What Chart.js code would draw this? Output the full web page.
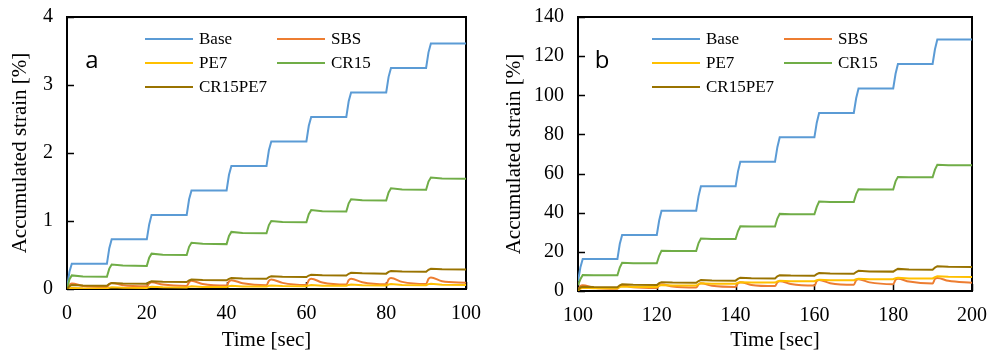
<!DOCTYPE html>
<html>
<head>
<meta charset="utf-8">
<script src="https://cdn.jsdelivr.net/npm/chart.js@4.4.1/dist/chart.umd.min.js"></script>
<style>
  body { margin: 0; background: #fff; }
  #wrap { position: relative; width: 989px; height: 354px; }
  canvas { position: absolute; top: 0; }
</style>
</head>
<body>
<div id="wrap">
  <canvas id="chart-a" width="494" height="354" style="left:0"></canvas>
  <canvas id="chart-b" width="495" height="354" style="left:494px"></canvas>
</div>
<script>
// ---- data ----
const seriesNames  = ['Base', 'SBS', 'PE7', 'CR15', 'CR15PE7'];
const seriesColors = ['#5B9BD5', '#ED7D31', '#FFC000', '#70AD47', '#997300'];

// panel a : time 0-100 s, strain in %
const timeA = [0,0.6,1.2,4, 10,10.6,11.2,14, 20,20.6,21.2,24, 30,30.6,31.2,34, 40,40.6,41.2,44,
               50,50.6,51.2,54, 60,60.6,61.2,64, 70,70.6,71.2,74, 80,80.6,81.2,84, 90,90.6,91.2,94, 100];
const baseA = [0,0.25,0.37,0.37, 0.37,0.6,0.73,0.73, 0.73,0.95,1.09,1.09, 1.09,1.32,1.45,1.45, 1.45,1.68,1.81,1.81,
               1.81,2.04,2.17,2.17, 2.17,2.4,2.53,2.53, 2.53,2.76,2.89,2.89, 2.89,3.12,3.25,3.25, 3.25,3.48,3.61,3.61, 3.61];
const sbsA = [0,0.06,0.08,0.045, 0.03,0.07,0.09,0.055, 0.04,0.08,0.1,0.065, 0.045,0.1,0.12,0.075, 0.05,0.11,0.13,0.085,
              0.055,0.12,0.14,0.09, 0.06,0.13,0.15,0.095, 0.065,0.13,0.15,0.1, 0.07,0.14,0.16,0.105, 0.075,0.15,0.17,0.115, 0.093];
const pe7A = [0,0.01,0.015,0.01, 0.008,0.02,0.025,0.017, 0.015,0.027,0.032,0.024, 0.022,0.034,0.04,0.031, 0.029,0.041,0.047,0.037,
              0.035,0.047,0.053,0.043, 0.041,0.053,0.06,0.049, 0.046,0.06,0.066,0.054, 0.051,0.066,0.072,0.059, 0.056,0.072,0.078,0.063, 0.06];
const cr15A = [0,0.14,0.2,0.185, 0.18,0.3,0.36,0.345, 0.34,0.46,0.52,0.505, 0.5,0.62,0.68,0.665, 0.66,0.78,0.84,0.825,
               0.82,0.94,1.0,0.985, 0.98,1.1,1.16,1.145, 1.14,1.26,1.32,1.305, 1.3,1.42,1.48,1.465, 1.46,1.58,1.64,1.625, 1.62];
const cr15pe7A = [0,0.04,0.06,0.052, 0.048,0.075,0.088,0.082, 0.078,0.1,0.113,0.107, 0.103,0.125,0.138,0.131, 0.127,0.15,0.162,0.155,
                  0.151,0.174,0.186,0.179, 0.175,0.198,0.21,0.203, 0.199,0.224,0.238,0.23, 0.226,0.252,0.265,0.257, 0.253,0.283,0.298,0.29, 0.287];

// panel b : time 100-200 s
const timeB = [100,100.6,101.2,104, 110,110.6,111.2,114, 120,120.6,121.2,124, 130,130.6,131.2,134, 140,140.6,141.2,144,
               150,150.6,151.2,154, 160,160.6,161.2,164, 170,170.6,171.2,174, 180,180.6,181.2,184, 190,190.6,191.2,194, 200];
const baseB = [5,12,16.3,16.3, 16.3,24,28.6,28.6, 28.6,36,41,41, 41,48.5,53.5,53.5, 53.5,61,66,66,
               66,73.5,78.5,78.5, 78.5,86,91,91, 91,98.5,103.5,103.5, 103.5,111,116,116, 116,123.5,128.5,128.5, 128.5];
const sbsB = [0.5,2.5,3,1.6, 1.1,2.4,2.9,1.9, 1.5,2.9,3.4,2.3, 1.8,3.3,3.9,2.7, 2.1,3.9,4.5,3.1,
              2.5,4.4,5,3.6, 2.8,5,5.6,4, 3.2,5.4,6,4.4, 3.5,5.7,6.3,4.8, 3.8,6.2,6.7,5.2, 4.2];
const pe7B = [0.3,1.2,1.6,1.4, 1.4,2,2.3,2.1, 2.1,2.7,3,2.8, 2.8,3.5,3.9,3.7, 3.7,4.2,4.5,4.3,
              4.3,4.9,5.2,5, 5,5.5,5.8,5.5, 5.5,6,6.3,6, 6,6.5,6.8,6.4, 6.4,7.1,7.5,7.3, 7.2];
const cr15B = [3,6,8.2,8, 8,12,14.4,14.2, 14.2,18,20.6,20.4, 20.4,24.5,26.8,26.6, 26.6,30.5,33.1,32.9,
               32.9,37,39.4,39.2, 39.2,43,45.7,45.5, 45.5,49.5,52,51.8, 51.8,56,58.3,58.1, 58.1,62,64.5,64.3, 64.2];
const cr15pe7B = [0.5,1.8,2.2,2, 1.9,2.9,3.4,3.2, 3.1,4,4.5,4.3, 4.2,5.1,5.6,5.4, 5.3,6.2,6.8,6.5,
                  6.4,7.5,8.1,7.9, 7.8,8.6,9.2,8.9, 8.8,9.7,10.3,10, 9.9,10.7,11.3,11, 10.9,12,12.7,12.4, 12.2];

const serif = "'Liberation Serif', 'Times New Roman', serif";

// ---- plugins: box frame, inner ticks, legend, panel letter ----
const framePlugin = {
  id: 'frame',
  beforeDatasetsDraw(chart) {
    const { ctx, chartArea: a, scales } = chart;
    ctx.save();
    ctx.strokeStyle = '#000';
    ctx.lineWidth = 1.5;
    ctx.beginPath();
    scales.y.ticks.forEach(t => {
      const py = Math.round(scales.y.getPixelForValue(t.value)) + 0.5;
      ctx.moveTo(a.left, py); ctx.lineTo(a.left + 7, py);
    });
    scales.x.ticks.forEach(t => {
      const px = Math.round(scales.x.getPixelForValue(t.value)) + 0.5;
      ctx.moveTo(px, a.bottom); ctx.lineTo(px, a.bottom - 7);
    });
    ctx.stroke();
    ctx.lineWidth = 2;
    ctx.strokeRect(a.left, a.top, a.width, a.height);
    ctx.restore();
  }
};

const legendPlugin = {
  id: 'inLegend',
  afterDatasetsDraw(chart, args, opts) {
    const { ctx, chartArea: a } = chart;
    ctx.save();
    ctx.font = '17px ' + serif;
    ctx.textBaseline = 'middle';
    ctx.fillStyle = '#000';
    chart.data.datasets.forEach((ds, i) => {
      const col = i % 2, row = Math.floor(i / 2);
      const x = a.left + opts.x + col * opts.colW;
      const y = opts.y + row * opts.rowH;
      ctx.strokeStyle = ds.borderColor;
      ctx.lineWidth = 2;
      ctx.beginPath(); ctx.moveTo(x, y); ctx.lineTo(x + opts.lineLen, y); ctx.stroke();
      ctx.fillText(ds.label, x + opts.lineLen + 6, y + 1);
    });
    // panel letter
    ctx.font = "24px 'Open Sans', 'DejaVu Sans', sans-serif";
    ctx.textAlign = 'center';
    ctx.fillText(opts.letter, opts.letterX, opts.letterY);
    ctx.restore();
  }
};

function makeChart(id, times, values, xMin, xMax, yMax, yStep, letter, letterX, legendX, yWidth, xHeight, rightPad) {
  const datasets = values.map((vals, i) => ({
    label: seriesNames[i],
    data: times.map((t, j) => ({ x: t, y: vals[j] })),
    borderColor: seriesColors[i],
    borderWidth: 2,
    pointRadius: 0,
    // only the SBS curve creeps back between load steps; the others are sharp steps
    cubicInterpolationMode: i === 1 ? 'monotone' : 'default',
    tension: 0,
    order: values.length - i
  }));
  return new Chart(document.getElementById(id), {
    type: 'line',
    data: { datasets },
    options: {
      responsive: false,
      animation: false,
      devicePixelRatio: 1,
      layout: { padding: { left: 0, right: rightPad, top: 17, bottom: 0 } },
      plugins: {
        legend: { display: false },
        tooltip: { enabled: false },
        inLegend: { x: legendX, y: 39, rowH: 24, colW: 132, lineLen: 48, letter, letterX, letterY: 61 }
      },
      scales: {
        x: {
          type: 'linear', min: xMin, max: xMax,
          grid: { display: false, drawTicks: false },
          border: { display: false },
          ticks: { stepSize: 20, color: '#000', font: { family: serif, size: 20 }, padding: 13, maxRotation: 0 },
          title: { display: true, text: 'Time [sec]', color: '#000', font: { family: serif, size: 21 }, padding: { top: 0, bottom: 1 } },
          afterFit: s => { s.height = xHeight; s.paddingLeft = 0; s.paddingRight = 0; }
        },
        y: {
          min: 0, max: yMax,
          grid: { display: false, drawTicks: false },
          border: { display: false },
          ticks: { stepSize: yStep, color: '#000', font: { family: serif, size: 20 }, padding: 14 },
          title: { display: true, text: 'Accumulated strain [%]', color: '#000', font: { family: serif, size: 21 }, padding: { top: 8, bottom: 0 } },
          afterFit: s => { s.width = yWidth; s.paddingTop = 0; s.paddingBottom = 0; }
        }
      }
    },
    plugins: [framePlugin, legendPlugin]
  });
}

makeChart('chart-a', timeA, [baseA, sbsA, pe7A, cr15A, cr15pe7A], 0, 100, 4, 1, 'a', 92, 78, 67, 65, 28);
makeChart('chart-b', timeB, [baseB, sbsB, pe7B, cr15B, cr15pe7B], 100, 200, 140, 20, 'b', 108, 74, 84, 63, 17);
</script>
</body>
</html>
